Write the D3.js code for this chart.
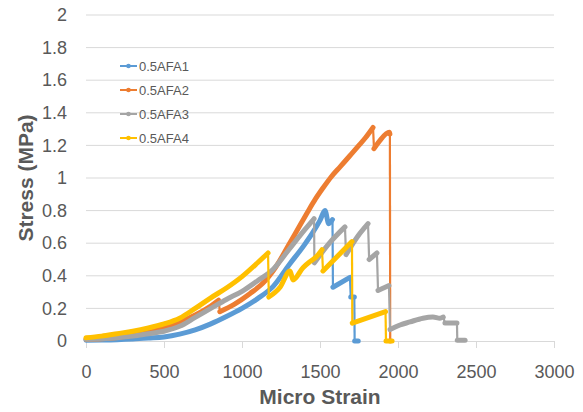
<!DOCTYPE html>
<html>
<head>
<meta charset="utf-8">
<script src="https://cdn.jsdelivr.net/npm/d3@7"></script>
<style>
  html, body { margin: 0; padding: 0; background: #fff; }
  svg { display: block; }
  text { font-family: "Liberation Sans", Arial, sans-serif; fill: #595959; }
</style>
</head>
<body>
<svg id="chart" width="583" height="412"></svg>
<script>
// Stress–strain records, [micro strain, stress in MPa]
const afa1 = [[0,0.005],[100,0.006],[200,0.008],[300,0.012],[400,0.018],[500,0.025],[600,0.042],[700,0.068],[800,0.105],[900,0.15],[1000,0.2],[1100,0.26],[1200,0.335],[1300,0.465],[1400,0.59],[1450,0.66],[1500,0.74],[1532,0.80],[1556,0.72],[1580,0.745],[1583,0.33],[1692,0.39],[1697,0.27],[1720,0.27],[1722,0.0],[1745,0.0]];
const afa2 = [[0,0.01],[100,0.014],[200,0.022],[300,0.035],[400,0.055],[500,0.08],[600,0.115],[700,0.16],[800,0.215],[850,0.25],[858,0.18],[950,0.225],[1050,0.29],[1150,0.37],[1200,0.43],[1300,0.59],[1360,0.69],[1420,0.79],[1470,0.87],[1520,0.94],[1570,1.005],[1630,1.07],[1690,1.135],[1745,1.195],[1790,1.245],[1840,1.31],[1846,1.18],[1880,1.225],[1945,1.28],[1948,1.27],[1950,0.0]];
const afa3 = [[0,0.01],[100,0.014],[200,0.02],[300,0.03],[400,0.045],[500,0.06],[600,0.09],[700,0.145],[800,0.2],[900,0.255],[1000,0.305],[1100,0.37],[1200,0.44],[1300,0.56],[1400,0.68],[1462,0.75],[1464,0.48],[1560,0.60],[1660,0.70],[1667,0.53],[1740,0.64],[1808,0.72],[1815,0.50],[1865,0.54],[1872,0.31],[1942,0.34],[1949,0.07],[2013,0.098],[2077,0.117],[2160,0.14],[2224,0.147],[2269,0.14],[2290,0.147],[2301,0.11],[2378,0.11],[2380,0.005],[2430,0.005]];
const afa4 = [[0,0.02],[100,0.03],[200,0.045],[300,0.06],[400,0.08],[500,0.105],[600,0.14],[700,0.20],[800,0.265],[900,0.325],[1000,0.395],[1100,0.48],[1167,0.54],[1172,0.27],[1244,0.33],[1308,0.43],[1327,0.375],[1391,0.45],[1440,0.49],[1480,0.52],[1513,0.56],[1519,0.43],[1705,0.61],[1707,0.11],[1920,0.18],[1923,0.0],[1962,0.0]];

const seriesNames = ["0.5AFA1", "0.5AFA2", "0.5AFA3", "0.5AFA4"];
const seriesColors = ["#5B9BD5", "#ED7D31", "#A5A5A5", "#FFC000"];
const seriesData = [afa1, afa2, afa3, afa4];

const xTicks = [0, 500, 1000, 1500, 2000, 2500, 3000];
const yTicks = [0, 0.2, 0.4, 0.6, 0.8, 1, 1.2, 1.4, 1.6, 1.8, 2];
const xTitle = "Micro Strain";
const yTitle = "Stress (MPa)";

const svg = d3.select("#chart");
const plot = { left: 86, right: 554, top: 15, bottom: 341 };

const x = d3.scaleLinear().domain([0, 3000]).range([plot.left, plot.right]);
const y = d3.scaleLinear().domain([0, 2]).range([plot.bottom, plot.top]);

// horizontal gridlines
svg.append("g")
  .selectAll("line")
  .data(yTicks.filter(d => d !== 0))
  .join("line")
  .attr("x1", plot.left).attr("x2", plot.right)
  .attr("y1", d => y(d)).attr("y2", d => y(d))
  .attr("stroke", "#d9d9d9").attr("stroke-width", 1);

// x axis with outside ticks
const xAxis = svg.append("g")
  .attr("transform", `translate(0,${plot.bottom})`)
  .call(d3.axisBottom(x).tickValues(xTicks).tickSize(7).tickSizeOuter(0).tickPadding(17).tickFormat(d3.format("d")));
xAxis.select(".domain").attr("stroke", "#d9d9d9");
xAxis.selectAll(".tick line").attr("stroke", "#d9d9d9");
xAxis.selectAll(".tick text")
  .attr("font-size", 18).attr("font-family", "'Liberation Sans', Arial, sans-serif")
  .attr("fill", "#595959");

// y axis labels only
const yAxis = svg.append("g")
  .attr("transform", `translate(${plot.left},0)`)
  .call(d3.axisLeft(y).tickValues(yTicks).tickSize(0).tickPadding(19).tickFormat(d3.format("~g")));
yAxis.select(".domain").remove();
yAxis.selectAll(".tick text")
  .attr("font-size", 18).attr("font-family", "'Liberation Sans', Arial, sans-serif")
  .attr("fill", "#595959");

// series: dense marker runs are drawn heavy, sudden load drops thin
const runLine = d3.line().x(d => x(d[0])).y(d => y(d[1])).curve(d3.curveMonotoneX);
const dropLine = d3.line().x(d => x(d[0])).y(d => y(d[1]));
seriesData.forEach((data, i) => {
  const g = svg.append("g");
  const runs = [];
  const drops = [];
  let run = [data[0]];
  for (let k = 1; k < data.length; k++) {
    const a = data[k - 1], b = data[k];
    const dx = Math.abs(x(b[0]) - x(a[0]));
    const dy = Math.abs(y(b[1]) - y(a[1]));
    if (dx <= 2.5 && dy > 6) {
      runs.push(run);
      drops.push([a, b]);
      run = [b];
    } else {
      run.push(b);
    }
  }
  runs.push(run);
  g.selectAll("path.drop").data(drops).join("path")
    .attr("class", "drop")
    .attr("d", dropLine)
    .attr("fill", "none").attr("stroke", seriesColors[i])
    .attr("stroke-width", 2.2);
  g.selectAll("path.run").data(runs).join("path")
    .attr("class", "run")
    .attr("d", runLine)
    .attr("fill", "none").attr("stroke", seriesColors[i])
    .attr("stroke-width", 5)
    .attr("stroke-linejoin", "round").attr("stroke-linecap", "round");
});

// legend
const legend = svg.append("g");
seriesNames.forEach((name, i) => {
  const ly = 66 + i * 24;
  legend.append("line")
    .attr("x1", 120).attr("x2", 137).attr("y1", ly).attr("y2", ly)
    .attr("stroke", seriesColors[i]).attr("stroke-width", 2);
  legend.append("circle")
    .attr("cx", 128.5).attr("cy", ly).attr("r", 2.3)
    .attr("fill", seriesColors[i]);
  legend.append("text")
    .attr("x", 139).attr("y", ly + 4.6)
    .attr("font-size", 13)
    .text(name);
});

// axis titles
svg.append("text")
  .attr("x", (plot.left + plot.right) / 2).attr("y", 404)
  .attr("text-anchor", "middle")
  .attr("font-size", 21).attr("font-weight", "bold")
  .text(xTitle);
svg.append("text")
  .attr("transform", `translate(32.5,${(plot.top + plot.bottom) / 2}) rotate(-90)`)
  .attr("text-anchor", "middle")
  .attr("font-size", 21).attr("font-weight", "bold")
  .text(yTitle);
</script>
</body>
</html>
